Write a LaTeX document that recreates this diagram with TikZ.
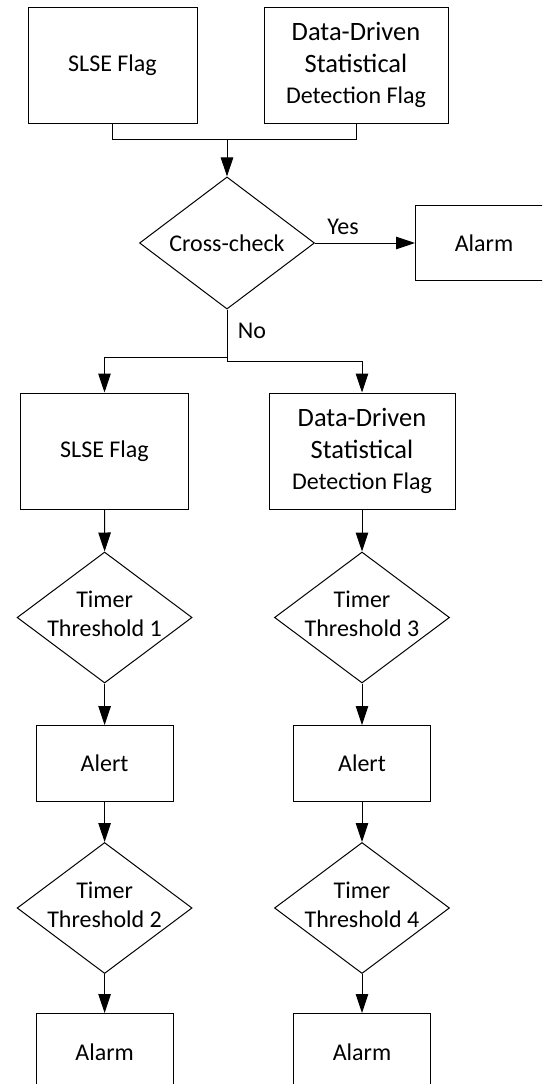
\documentclass[tikz,border=0pt]{standalone}
\usepackage{fontspec}
\setmainfont{Carlito}
\usetikzlibrary{arrows.meta,shapes.geometric}
\newcommand{\dtext}[2]{\makebox[0pt]{\raisebox{-0.22em}[0pt][0pt]{\begin{tabular}{@{}c@{}}#1\\#2\end{tabular}}}}
\begin{document}
\begin{tikzpicture}[x=1pt,y=-1pt,
  line width=1pt,
  txt/.style={font=\fontsize{24}{29}\selectfont},
  ddtxt/.style={font=\fontsize{26.5}{31.5}\selectfont},
  flagbox/.style={draw, rectangle, inner sep=0pt, align=center, minimum width=#1, minimum height=116pt},
  smallbox/.style={draw, rectangle, inner sep=0pt, align=center, minimum width=137pt, minimum height=75.5pt, txt},
  decision/.style={draw, diamond, inner sep=0pt, minimum width=175pt, minimum height=131pt, txt},
  arr/.style={-{Triangle[length=19pt,width=12.5pt]}},
  lbl/.style={txt, inner sep=0pt}]
\clip (0,0) rectangle (542,1084);
% top flags
\node[flagbox=169pt, txt] (slse1) at (112.5,65) {SLSE Flag};
\node[flagbox=184pt, ddtxt] (dd1) at (356,65) {Data-Driven\\Statistical\\{\fontsize{24}{31.5}\selectfont Detection Flag}};
\coordinate (m) at (227,139);
\draw (slse1.south) |- (m);
\draw (dd1.south) |- (m);
% cross-check
\node[decision] (cc) at (227,243) {Cross-check};
\draw[arr] (m) -- (cc.north);
\node[smallbox] (alarm0) at (484,243) {Alarm};
\draw[arr] (cc.east) -- (alarm0.west);
\node[lbl] (yes) at (343,227) {Yes};
\node[lbl] (no) at (252,331) {No};
% branches
\node[flagbox=168pt, txt] (slse2) at (104.5,451) {SLSE Flag};
\node[flagbox=186pt, ddtxt] (dd2) at (362,451) {Data-Driven\\Statistical\\{\fontsize{24}{31.5}\selectfont Detection Flag}};
\coordinate (bl) at (227,357);
\coordinate (br) at (227,361);
\draw (cc.south) -- (br);
\draw[arr] (bl) -| (slse2.north);
\draw[arr] (br) -| (dd2.north);
% left column
\node[decision] (tt1) at (104.6,617.5) {\dtext{Timer}{Threshold 1}};
\node[smallbox] (alert1) at (104.6,763.3) {Alert};
\node[decision] (tt2) at (104.6,908) {\dtext{Timer}{Threshold 2}};
\node[smallbox, minimum height=77pt] (alarm1) at (104.6,1052) {Alarm};
\draw[arr] (slse2.south) -- (tt1.north);
\draw[arr] (tt1.south) -- (alert1.north);
\draw[arr] (alert1.south) -- (tt2.north);
\draw[arr] (tt2.south) -- (alarm1.north);
% right column
\node[decision] (tt3) at (362,617.5) {\dtext{Timer}{Threshold 3}};
\node[smallbox] (alert2) at (362,763.3) {Alert};
\node[decision] (tt4) at (362,908) {\dtext{Timer}{Threshold 4}};
\node[smallbox, minimum height=77pt] (alarm2) at (362,1052) {Alarm};
\draw[arr] (dd2.south) -- (tt3.north);
\draw[arr] (tt3.south) -- (alert2.north);
\draw[arr] (alert2.south) -- (tt4.north);
\draw[arr] (tt4.south) -- (alarm2.north);
\end{tikzpicture}
\end{document}
